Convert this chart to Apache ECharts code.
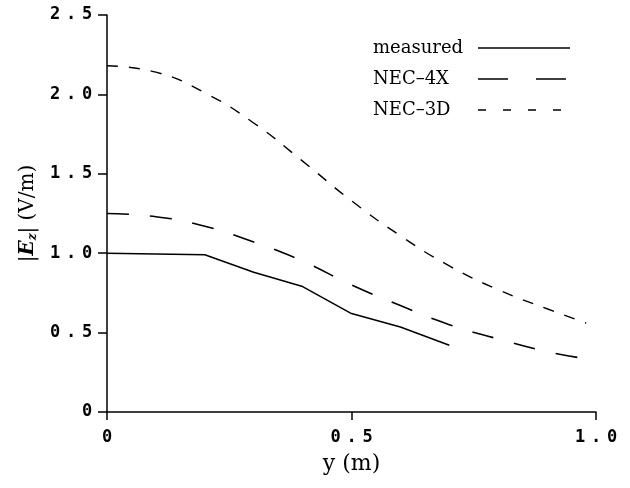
<!DOCTYPE html>
<html><head><meta charset="utf-8">
<script src="https://cdn.jsdelivr.net/npm/echarts@6/dist/echarts.min.js"></script>
<style>html,body{margin:0;padding:0;background:#fff}#c{width:630px;height:488px}</style>
</head><body><div id="c"></div>
<script>
// data
const seriesNames = ['measured', 'NEC\u20134X', 'NEC\u20133D'];
const measuredX = [0, 0.1, 0.2, 0.3, 0.4, 0.45, 0.5, 0.6, 0.7];
const measuredY = [1.0, 0.995, 0.99, 0.88, 0.79, 0.705, 0.62, 0.535, 0.42];
const nec4xX = [0, 0.1, 0.2, 0.3, 0.4, 0.5, 0.6, 0.7, 0.8, 0.9, 0.97];
const nec4xY = [1.25, 1.23, 1.17, 1.07, 0.95, 0.80, 0.67, 0.55, 0.46, 0.38, 0.34];
const nec3dX = [0, 0.1, 0.2, 0.3, 0.4, 0.5, 0.6, 0.7, 0.8, 0.9, 0.98];
const nec3dY = [2.18, 2.14, 2.01, 1.82, 1.58, 1.33, 1.11, 0.92, 0.77, 0.65, 0.56];
const xTickLabels = {0: '0', 0.5: '0.5', 1: '1.0'};
const yTickLabels = {0: '0', 0.5: '0.5', 1: '1.0', 1.5: '1.5', 2: '2.0', 2.5: '2.5'};

const zip = (xs, ys) => xs.map((x, i) => [x, ys[i]]);
// render each character in a fixed-width cell (typewriter-like spacing)
const spaced = s => s.split('').map(ch => '{c|' + ch + '}').join('');
const chart = echarts.init(document.getElementById('c'), null, {renderer: 'canvas'});
const tickRich = {c: {fontFamily: 'DejaVu Sans Mono', fontSize: 17, fontWeight: 'bold', color: '#000', width: 16, align: 'center'}};
const serif = 'DejaVu Serif';
const hideSym = {color: 'rgba(0,0,0,0)', borderWidth: 0, opacity: 0};
chart.setOption({
  animation: false,
  backgroundColor: '#fff',
  grid: {left: 107, right: 34, top: 15, bottom: 76, containLabel: false},
  legend: {
    orient: 'vertical', left: 368, top: 34, align: 'right',
    itemWidth: 92, itemHeight: 14, itemGap: 13,
    formatter: name => '{n|' + name + '}',
    textStyle: {fontFamily: serif, fontSize: 18, color: '#000',
      rich: {n: {fontFamily: serif, fontSize: 18, color: '#000', width: 100, align: 'left'}}},
    data: [
      {name: seriesNames[0], itemStyle: hideSym, lineStyle: {type: 'solid', width: 1.5, color: '#000'}},
      {name: seriesNames[1], itemStyle: hideSym, lineStyle: {type: [30, 28], width: 1.5, color: '#000'}},
      {name: seriesNames[2], itemStyle: hideSym, lineStyle: {type: [8, 17], width: 1.5, color: '#000'}}
    ]
  },
  xAxis: {
    type: 'value', min: 0, max: 1, interval: 0.5,
    name: 'y (m)', nameLocation: 'middle', nameGap: 41,
    nameTextStyle: {fontFamily: serif, fontSize: 22, color: '#000'},
    axisLine: {lineStyle: {color: '#000', width: 1.5}},
    axisTick: {inside: false, length: 8, lineStyle: {color: '#000', width: 1.5}},
    axisLabel: {margin: 17, formatter: v => spaced(xTickLabels[v] ?? String(v)), rich: tickRich},
    splitLine: {show: false}
  },
  yAxis: {
    type: 'value', min: 0, max: 2.5, interval: 0.5,
    name: '{a||}{e|E}{s|z}{a|| (V/m)}', nameLocation: 'middle', nameGap: 68, nameRotate: 90,
    nameTextStyle: {
      color: '#000',
      rich: {
        a: {fontFamily: serif, fontSize: 20, color: '#000'},
        e: {fontFamily: serif, fontSize: 20, fontStyle: 'italic', fontWeight: 'bold', color: '#000'},
        s: {fontFamily: serif, fontSize: 12, fontStyle: 'italic', fontWeight: 'bold', color: '#000', verticalAlign: 'bottom', padding: [10, 0, 0, 0]}
      }
    },
    axisLine: {show: true, lineStyle: {color: '#000', width: 1.5}},
    axisTick: {show: true, inside: false, length: 9, lineStyle: {color: '#000', width: 1.5}},
    axisLabel: {margin: 12, formatter: v => spaced(yTickLabels[v] ?? String(v)), rich: tickRich},
    splitLine: {show: false}
  },
  series: [
    {name: seriesNames[0], type: 'line', data: zip(measuredX, measuredY), symbol: 'none', smooth: false,
     lineStyle: {color: '#000', width: 1.5, type: 'solid'}, itemStyle: {color: '#000'}},
    {name: seriesNames[1], type: 'line', data: zip(nec4xX, nec4xY), symbol: 'none', smooth: true,
     lineStyle: {color: '#000', width: 1.6, type: [22, 21]}, itemStyle: {color: '#000'}},
    {name: seriesNames[2], type: 'line', data: zip(nec3dX, nec3dY), symbol: 'none', smooth: true,
     lineStyle: {color: '#000', width: 1.4, type: [11, 11]}, itemStyle: {color: '#000'}}
  ]
});
</script></body></html>
